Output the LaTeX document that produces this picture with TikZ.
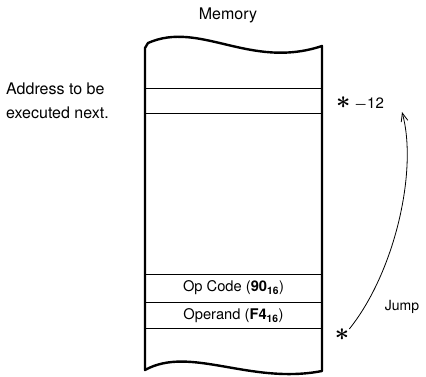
\documentclass[tikz,border=0pt]{standalone}
\usepackage{fontspec}
\setmainfont{TeX Gyre Heros}
\usepackage{tikz}
\usetikzlibrary{positioning, arrows.meta}

\begin{document}
\begin{tikzpicture}[
    x=1pt, y=-1pt,
    lbl/.style={inner sep=0pt, font=\fontsize{16}{24}\selectfont},
    cell/.style={rectangle, draw=black, line width=0.8pt, minimum width=177pt, minimum height=#1, inner sep=0pt, font=\fontsize{14.7}{17}\selectfont},
    cell/.default={25pt},
    star/.style={inner sep=0pt, font=\fontsize{23}{23}\selectfont\boldmath},
    memline/.style={line width=2.4pt, line join=round},
    jump/.style={-{Straight Barb[length=3mm, width=2.4mm]}, line width=0.8pt}
]
\useasboundingbox (0,0) rectangle (426,377);

\node[lbl] (title) at (228,15) {Memory};
\node[lbl, align=left, anchor=west] (addr) at (6,101) {Address to be\\executed next.};

% memory cells
\node[cell] (next) at (233.5,100.5) {};
\node[cell=28pt] (opcode) at (233.5,288) {Op Code (\textbf{90\textsubscript{16}})};
\node[cell=26pt, below=0pt of opcode] (operand) {Operand (\textbf{F4\textsubscript{16}})};

% memory outline
\draw[memline] (148,43) .. controls (200,20) and (250,70) .. (322,46)
    -- (322,371) .. controls (250,385) and (190,345) .. (145,370) -- (145,48) -- cycle;

\node[star] (here) at (342,335) {$\ast$};
\node[star, anchor=west] (back) at (336,104) {$\ast$\,{\fontsize{15}{17}\selectfont$-$12}};
\node[lbl, font=\fontsize{14}{17}\selectfont] (jumplbl) at (402,307) {Jump};

\coordinate (tip) at (402,112);
\draw[jump] (here.north east) .. controls (395,272) and (418,170) .. (tip);

\end{tikzpicture}
\end{document}
